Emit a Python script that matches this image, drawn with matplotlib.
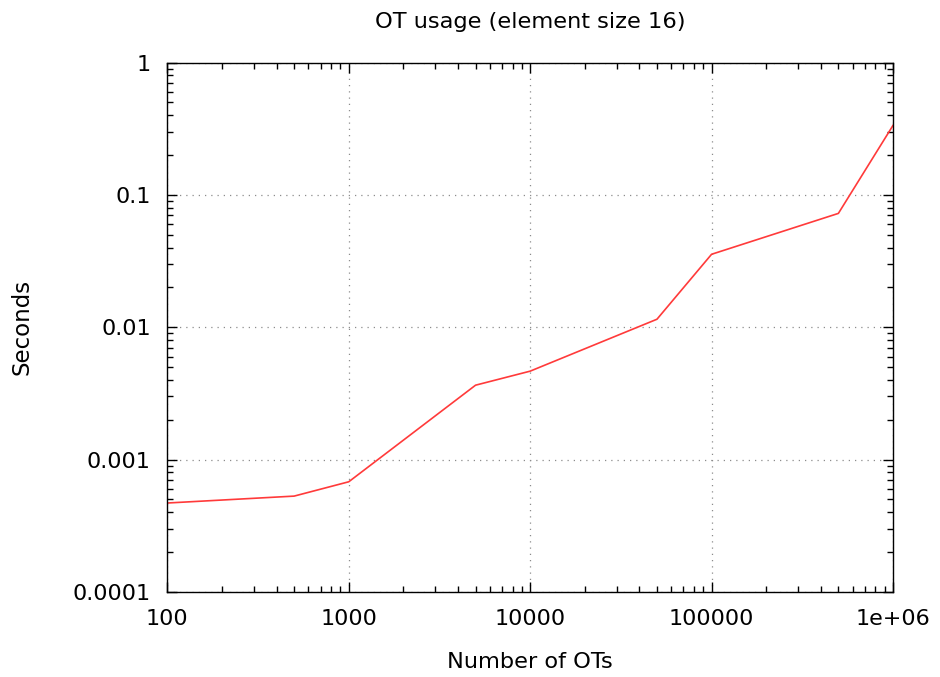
import matplotlib.pyplot as plt
from matplotlib.ticker import LogLocator, NullFormatter

# data
num_ots = [100, 500, 1000, 5000, 10000, 50000, 100000, 500000, 1000000]
seconds = [4.7e-4, 5.3e-4, 6.8e-4, 3.65e-3, 4.66e-3, 1.15e-2, 3.56e-2, 7.25e-2, 0.335]

x_ticks = [100, 1000, 10000, 100000, 1000000]
x_tick_labels = ["100", "1000", "10000", "100000", "1e+06"]
y_ticks = [1e-4, 1e-3, 1e-2, 1e-1, 1]
y_tick_labels = ["0.0001", "0.001", "0.01", "0.1", "1"]

plt.rcParams['font.family'] = ['DejaVu Sans']

fig = plt.figure(figsize=(9.4, 6.77), dpi=100)
ax = fig.add_axes([0.178, 0.1256, 0.772, 0.782])

ax.plot(num_ots, seconds, color="#ff3a3a", linewidth=1.2)

ax.set_xscale("log")
ax.set_yscale("log")
ax.set_xlim(100, 1e6)
ax.set_ylim(1e-4, 1)

ax.set_xticks(x_ticks)
ax.set_xticklabels(x_tick_labels)
ax.set_yticks(y_ticks)
ax.set_yticklabels(y_tick_labels)
ax.xaxis.set_minor_locator(LogLocator(base=10, subs=range(2, 10)))
ax.yaxis.set_minor_locator(LogLocator(base=10, subs=range(2, 10)))
ax.xaxis.set_minor_formatter(NullFormatter())
ax.yaxis.set_minor_formatter(NullFormatter())

ax.tick_params(which="both", direction="in", top=True, right=True, labelsize=16, width=1.0, pad=12)
ax.tick_params(which="major", length=7.5)
ax.tick_params(which="minor", length=4)

for s in ax.spines.values():
    s.set_linewidth(1.0)

ax.grid(True, which="major", linestyle=(0, (1, 4)), color="#8c8c8c", linewidth=0.9)

ax.set_title("OT usage (element size 16)", fontsize=16.2, pad=25)
ax.set_xlabel("Number of OTs", fontsize=16.2, labelpad=17)
ax.set_ylabel("Seconds", fontsize=16.5, labelpad=28)

plt.savefig("out.png", dpi=100)
